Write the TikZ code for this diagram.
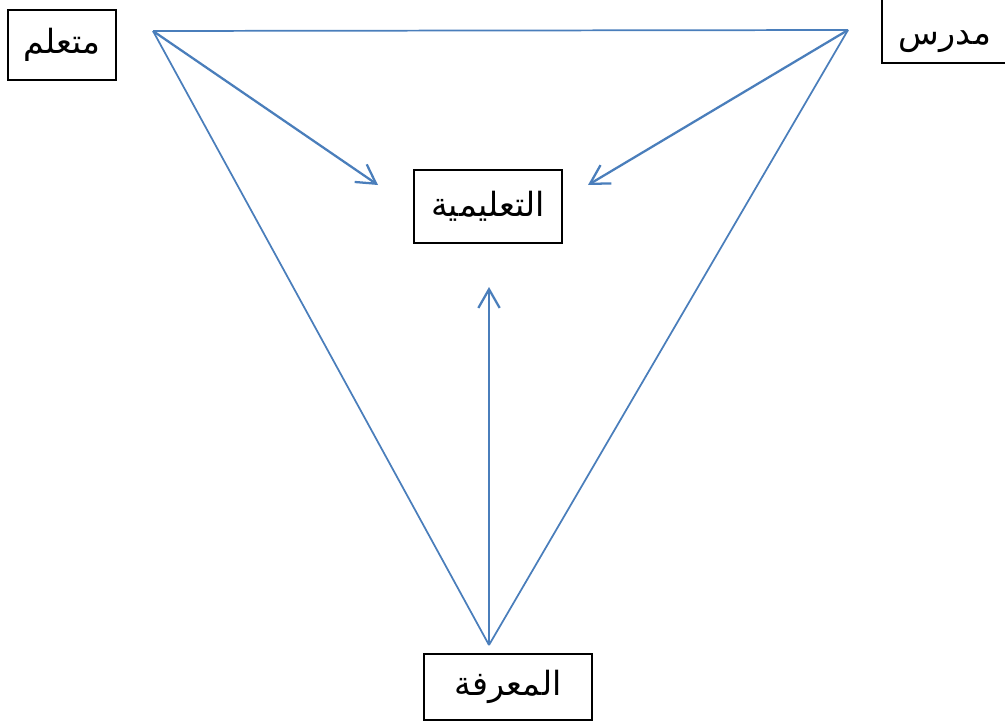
\documentclass[tikz,border=0pt]{standalone}
\usepackage{fontspec}
\newfontfamily\arabicfont[Script=Arabic]{DejaVu Sans}
\TeXXeTstate=1
\usetikzlibrary{arrows.meta,shadows}
\definecolor{lineblue}{HTML}{4A7EBB}
\begin{document}
\begin{tikzpicture}[x=0.75pt,y=-0.75pt,
  box/.style={draw=black, line width=0.8pt, fill=white, inner sep=0pt,
    drop shadow={shadow xshift=0.8pt, shadow yshift=-0.8pt, fill=gray!60, opacity=1}},
  lbl/.style={font=\arabicfont\fontsize{25}{30}\selectfont},
  edge/.style={draw=lineblue, line width=1.3pt},
  arr/.style={draw=lineblue, line width=1.7pt, -{Straight Barb[length=14pt,width=16pt,line width=1.7pt]}}]
\useasboundingbox (0,0) rectangle (1005,724);
% boxes
\node[box, lbl, minimum width=81pt, minimum height=52.5pt] (L) at (62,45) {\beginR متعلم\endR};
\node[box, lbl, minimum width=111pt, minimum height=54.75pt] (T) at (488,206.5) {\beginR التعليمية\endR};
\node[box, lbl, minimum width=126pt, minimum height=49.5pt] (B) at (508,687) {\beginR المعرفة\endR};
\node[box, minimum width=103.5pt, minimum height=54.75pt] (Rbox) at (951,26.5) {};
\node[lbl, inner sep=0pt] (R) at (945,42) {\beginR مدرس\endR};
% triangle vertices and arrow tips
\coordinate (vL) at (153,31);
\coordinate (vR) at (848,30);
\coordinate (vB) at (489,645);
\coordinate (tL) at (378,185);
\coordinate (tR) at (588,185);
\coordinate (tB) at (489,287);
\draw[edge] (vL) -- (vR);
\draw[edge] (vL) -- (vB);
\draw[edge] (vR) -- (vB);
\draw[arr] (vL) -- (tL);
\draw[arr] (vR) -- (tR);
\draw[arr] (vB) -- (tB);
\end{tikzpicture}
\end{document}
